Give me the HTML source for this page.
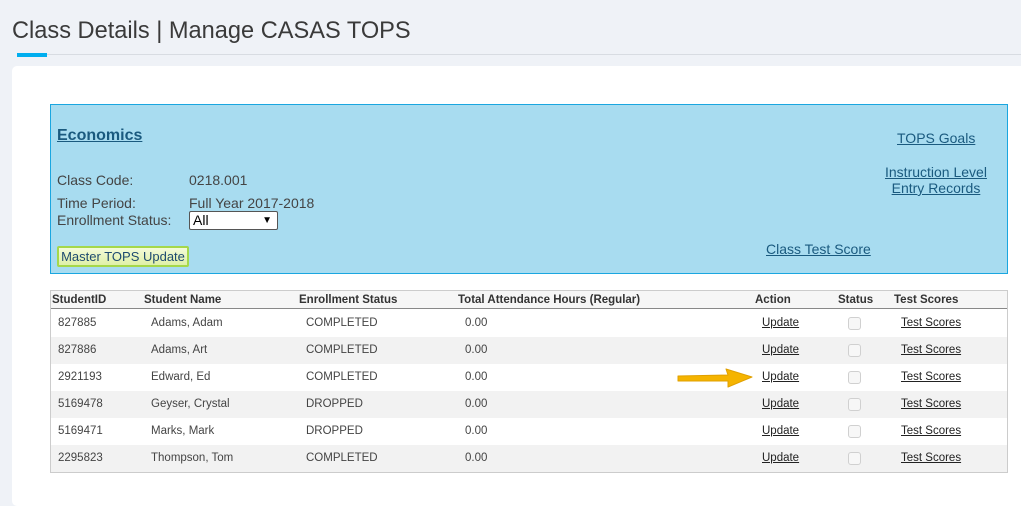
<!DOCTYPE html>
<html><head><meta charset="utf-8"><style>
*{margin:0;padding:0;box-sizing:border-box}
body{width:1021px;height:504px;background:#eff2f7;position:relative;overflow:hidden;font-family:"Liberation Sans",sans-serif}
.a{position:absolute;white-space:nowrap}
.t{font-size:11.5px;color:#444}
.h{font-size:11.5px;font-weight:bold;color:#333}
.lk{font-size:14px;color:#1a5a7f;text-decoration:underline}
.u{font-size:11.5px;color:#222;text-decoration:underline}
.cb{position:absolute;width:13px;height:13px;border:1px solid #d0d0d0;border-radius:3px;background:#f7f7f7}
</style></head><body>
<div class="a" style="left:12px;top:18px;font-size:23.6px;color:#3a3a3a">Class Details | Manage CASAS TOPS</div>
<div class="a" style="left:47px;top:54px;width:974px;height:1px;background:#d8dce2"></div>
<div class="a" style="left:17px;top:53px;width:30px;height:4px;background:#00aeef"></div>
<div class="a" style="left:12px;top:66px;width:1015px;height:440px;background:#fff;border-radius:5px"></div>

<div class="a" style="left:50px;top:104px;width:958px;height:170px;background:#a8dcf0;border:1px solid #1aa6e0"></div>
<div class="a lk" style="left:57px;top:127px;font-size:16px;font-weight:bold">Economics</div>
<div class="a" style="left:57px;top:172px;font-size:14px;color:#444">Class Code:</div>
<div class="a" style="left:189px;top:172px;font-size:14px;color:#444">0218.001</div>
<div class="a" style="left:57px;top:195px;font-size:14px;color:#444">Time Period:</div>
<div class="a" style="left:189px;top:195px;font-size:14px;color:#444">Full Year 2017-2018</div>
<div class="a" style="left:57px;top:212px;font-size:14px;color:#444">Enrollment Status:</div>
<div class="a" style="left:189px;top:211px;width:89px;height:19px;background:#fff;border:1px solid #555;border-radius:2px;font-size:14px;color:#000;padding-left:3px;line-height:17px">All<span style="position:absolute;right:5px;top:0;font-size:10px">&#9660;</span></div>
<div class="a" style="left:57px;top:246px;width:132px;height:21px;background:linear-gradient(#f4fbd8,#dff0a8);border:2px solid #a5d84a;border-radius:2px;font-size:13px;color:#1e4a70;line-height:17px;text-align:center">Master TOPS Update</div>
<div class="a lk" style="left:897px;top:130px">TOPS Goals</div>
<div class="a lk" style="left:885px;top:164px;text-align:center;line-height:16px">Instruction Level<br>Entry Records</div>
<div class="a lk" style="left:766px;top:241px">Class Test Score</div>

<div class="a" style="left:50px;top:290px;width:958px;height:183px;border:1px solid #ccc;background:#fff"></div>
<div class="a" style="left:51px;top:291px;width:956px;height:18px;background:#f6f6f6;border-bottom:1px solid #888"></div>
<div class="a" style="left:51px;top:337px;width:956px;height:27px;background:#f2f2f2"></div>
<div class="a" style="left:51px;top:391px;width:956px;height:27px;background:#f2f2f2"></div>
<div class="a" style="left:51px;top:445px;width:956px;height:27px;background:#f2f2f2"></div>
<div class="a h" style="left:52px;top:294px">StudentID</div>
<div class="a h" style="left:144px;top:294px">Student Name</div>
<div class="a h" style="left:299px;top:294px">Enrollment Status</div>
<div class="a h" style="left:458px;top:294px">Total Attendance Hours (Regular)</div>
<div class="a h" style="left:755px;top:294px">Action</div>
<div class="a h" style="left:838px;top:294px">Status</div>
<div class="a h" style="left:894px;top:294px">Test Scores</div>

<div class="a t" style="left:58px;top:317px">827885</div><div class="a t" style="left:151px;top:317px">Adams, Adam</div><div class="a t" style="left:306px;top:317px">COMPLETED</div><div class="a t" style="left:465px;top:317px">0.00</div><div class="a u" style="left:762px;top:317px">Update</div><div class="cb" style="left:848px;top:317px"></div><div class="a u" style="left:901px;top:317px">Test Scores</div>
<div class="a t" style="left:58px;top:344px">827886</div><div class="a t" style="left:151px;top:344px">Adams, Art</div><div class="a t" style="left:306px;top:344px">COMPLETED</div><div class="a t" style="left:465px;top:344px">0.00</div><div class="a u" style="left:762px;top:344px">Update</div><div class="cb" style="left:848px;top:344px"></div><div class="a u" style="left:901px;top:344px">Test Scores</div>
<div class="a t" style="left:58px;top:371px">2921193</div><div class="a t" style="left:151px;top:371px">Edward, Ed</div><div class="a t" style="left:306px;top:371px">COMPLETED</div><div class="a t" style="left:465px;top:371px">0.00</div><div class="a u" style="left:762px;top:371px">Update</div><div class="cb" style="left:848px;top:371px"></div><div class="a u" style="left:901px;top:371px">Test Scores</div>
<div class="a t" style="left:58px;top:398px">5169478</div><div class="a t" style="left:151px;top:398px">Geyser, Crystal</div><div class="a t" style="left:306px;top:398px">DROPPED</div><div class="a t" style="left:465px;top:398px">0.00</div><div class="a u" style="left:762px;top:398px">Update</div><div class="cb" style="left:848px;top:398px"></div><div class="a u" style="left:901px;top:398px">Test Scores</div>
<div class="a t" style="left:58px;top:425px">5169471</div><div class="a t" style="left:151px;top:425px">Marks, Mark</div><div class="a t" style="left:306px;top:425px">DROPPED</div><div class="a t" style="left:465px;top:425px">0.00</div><div class="a u" style="left:762px;top:425px">Update</div><div class="cb" style="left:848px;top:425px"></div><div class="a u" style="left:901px;top:425px">Test Scores</div>
<div class="a t" style="left:58px;top:452px">2295823</div><div class="a t" style="left:151px;top:452px">Thompson, Tom</div><div class="a t" style="left:306px;top:452px">COMPLETED</div><div class="a t" style="left:465px;top:452px">0.00</div><div class="a u" style="left:762px;top:452px">Update</div><div class="cb" style="left:848px;top:452px"></div><div class="a u" style="left:901px;top:452px">Test Scores</div>

<svg class="a" style="left:670px;top:364px" width="90" height="28">
<path d="M8 12 L58 11 L56 5 L82 13 L58 23 L58 17 L8 17 Z" fill="#f5b400" stroke="#e0a000" stroke-width="1" stroke-linejoin="round"/>
</svg>
</body></html>
